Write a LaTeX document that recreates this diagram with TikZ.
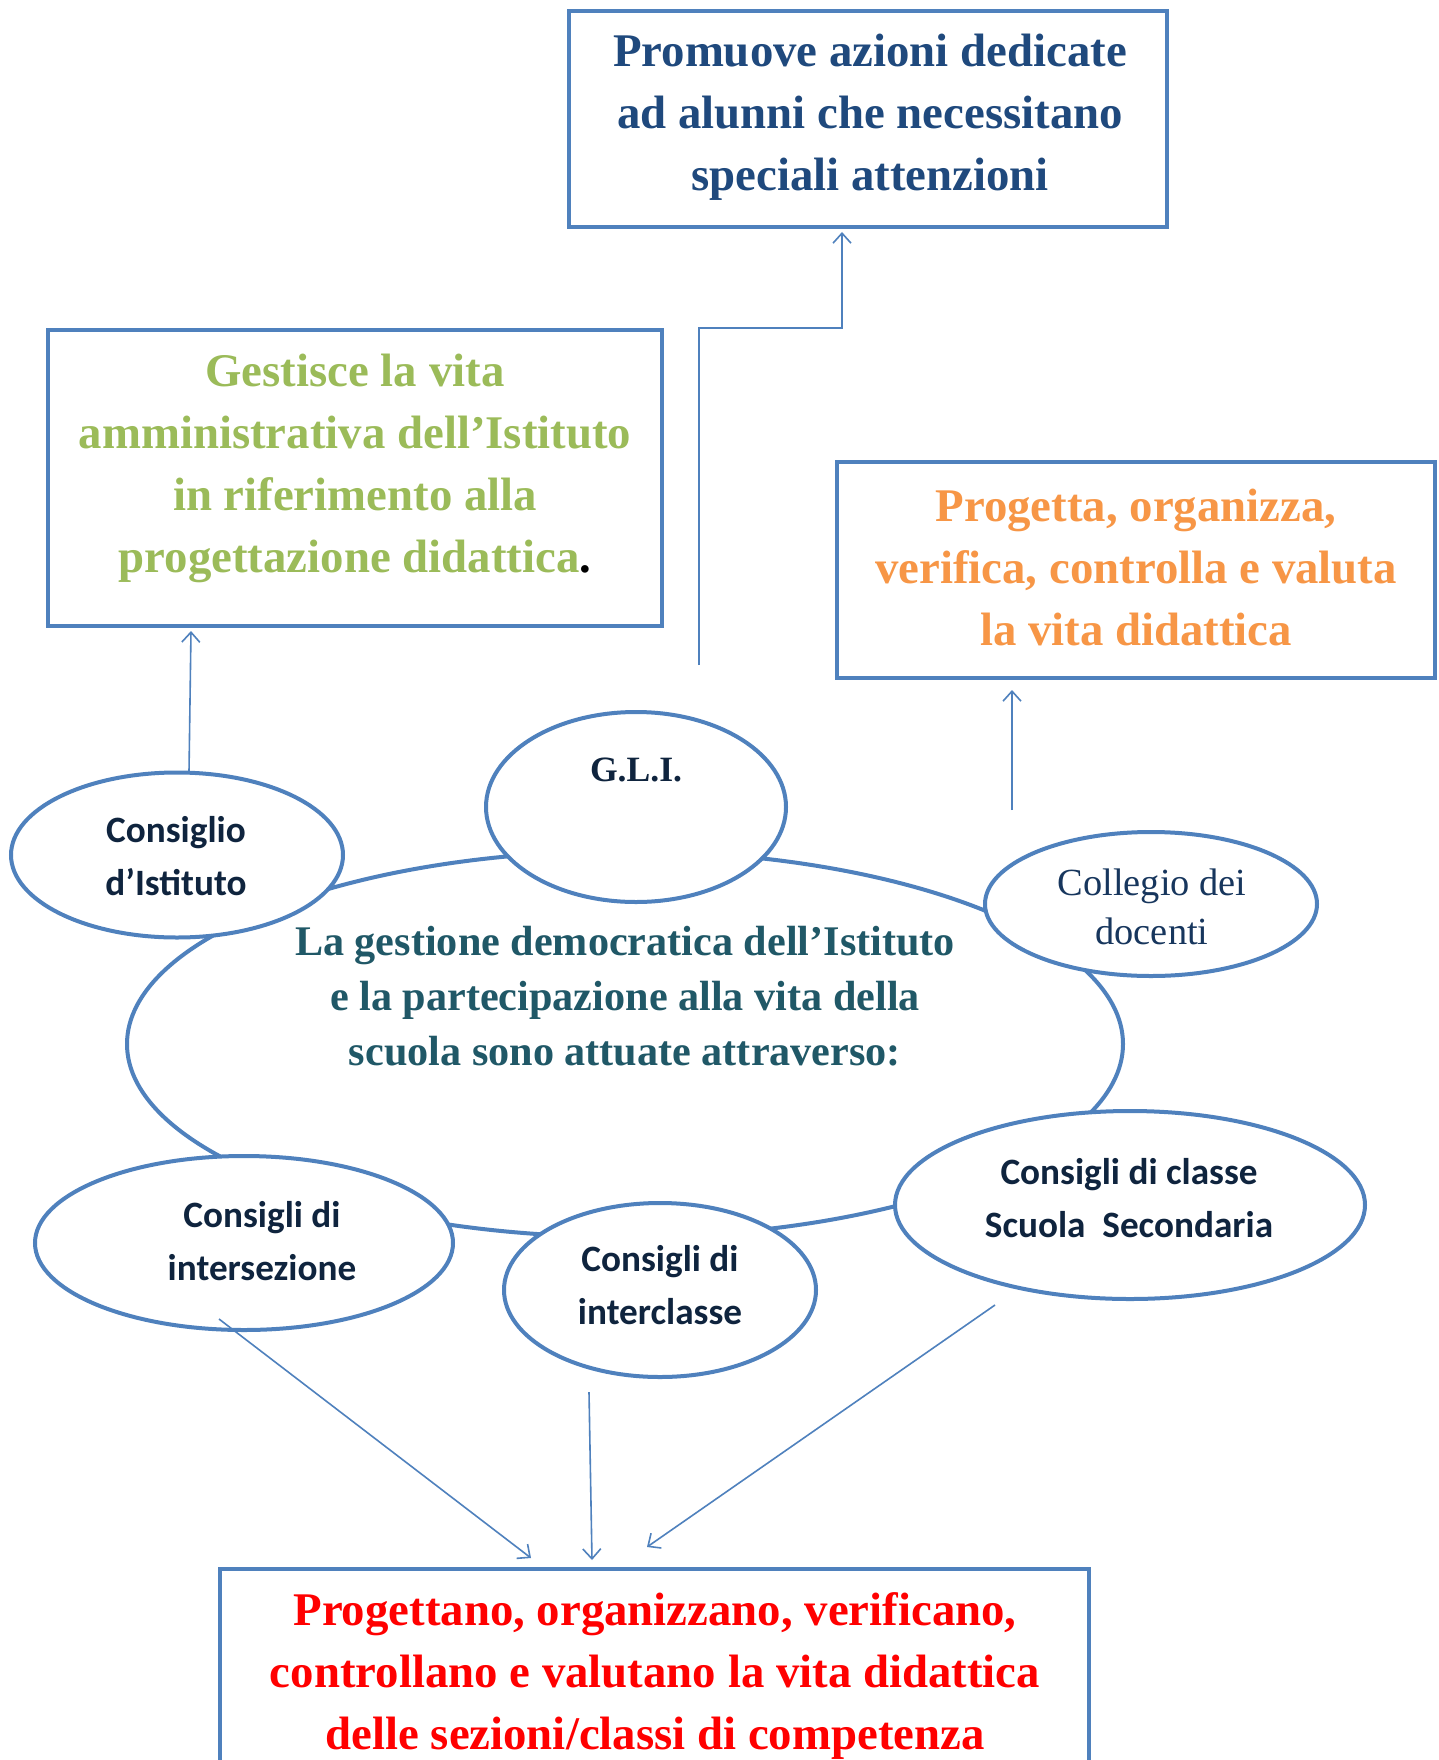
\documentclass[tikz,border=0pt]{standalone}
\usepackage{fontspec}
\setmainfont{Liberation Serif}
\newfontfamily\calib{Carlito}
\usetikzlibrary{shapes.geometric,arrows.meta}
\definecolor{lineblue}{HTML}{4F81BD}
\definecolor{txtblue}{HTML}{1F497D}
\definecolor{txtgreen}{HTML}{9BBB59}
\definecolor{txtorange}{HTML}{F79646}
\definecolor{txtteal}{HTML}{205867}
\definecolor{txtnavy}{HTML}{0F243E}
\definecolor{txtnavy2}{HTML}{17365D}
\begin{document}
\begin{tikzpicture}[x=0.5pt,y=-0.5pt,
  ell/.style={ellipse,draw=lineblue,line width=2pt,fill=white,inner sep=0pt},
  bigell/.style={ellipse,draw=lineblue,line width=2pt,inner sep=0pt},
  boxx/.style={rectangle,draw=lineblue,line width=2pt,fill=white,inner sep=0pt},
  boxtxt/.style={align=center,font=\fontsize{23.4}{31}\selectfont\bfseries,inner sep=0pt},
  elltxt/.style={align=center,font=\fontsize{18.6}{26.4}\selectfont\calib\bfseries,text=txtnavy,inner sep=0pt},
  arr/.style={draw=lineblue,line width=0.8pt,-{Straight Barb[length=5pt,width=9pt]}}]
\useasboundingbox (0,0) rectangle (1439,1760);
\fill[white] (0,0) rectangle (1439,1760);

% big ellipse
\node[bigell,minimum width=498pt,minimum height=193pt] (big) at (625,1044) {};
% small ellipses
\node[ell,minimum width=150pt,minimum height=95pt] (gli) at (636,807) {};
\node[ell,minimum width=166pt,minimum height=82.5pt] (ci) at (177,855) {};
\node[ell,minimum width=166pt,minimum height=72pt] (cd) at (1151,904) {};
\node[ell,minimum width=209pt,minimum height=87pt] (cis) at (244,1243) {};
\node[ell,minimum width=156pt,minimum height=87pt] (cic) at (660,1290) {};
\node[ell,minimum width=235pt,minimum height=94pt] (ccs) at (1130,1205) {};

% boxes
\node[boxx,minimum width=299pt,minimum height=108pt] (top) at (868,119) {};
\node[boxx,minimum width=307pt,minimum height=148pt] (left) at (355,478) {};
\node[boxx,minimum width=299pt,minimum height=108pt] (right) at (1136,570) {};
\node[boxx,minimum width=434.5pt,minimum height=130.5pt] (bottom) at (654.5,1699.5) {};

% texts
\node[boxtxt,text=txtblue] (ttop) at (870,117) {Promuove azioni dedicate\\ad alunni che necessitano\\speciali attenzioni};
\node[boxtxt,text=txtgreen] (tleft) at (355,468) {Gestisce la vita\\amministrativa dell’Istituto\\in riferimento alla\\progettazione didattica\textcolor{black}{.}};
\node[boxtxt,text=txtorange] (tright) at (1136,567) {Progetta, organizza,\\verifica, controlla e valuta\\la vita didattica};
\node[boxtxt,text=red] (tbottom) at (655,1676) {Progettano, organizzano, verificano,\\controllano e valutano la vita didattica\\delle sezioni/classi di competenza};
\node[align=center,inner sep=0pt,text=txtteal,font=\fontsize{21.1}{27.5}\selectfont\bfseries] (tbig) at (625,996) {La gestione democratica dell’Istituto\\e la partecipazione alla vita della\\scuola sono attuate attraverso:};
\node[inner sep=0pt,text=txtnavy,font=\fontsize{17.8}{22}\selectfont\bfseries] (tgli) at (636,770) {G.L.I.};
\node[elltxt] (tci) at (176,856) {Consiglio\\d’Istituto};
\node[align=center,inner sep=0pt,text=txtnavy2,font=\fontsize{19.2}{24.5}\selectfont] (tcd) at (1152,907) {Collegio dei\\docenti};
\node[elltxt] (tcis) at (262,1241) {Consigli di\\intersezione};
\node[elltxt] (tcic) at (660,1285) {Consigli di\\interclasse};
\node[elltxt] (tccs) at (1129,1198) {Consigli di classe\\Scuola\ \ Secondaria};

% connector coordinates
\coordinate (a1s) at (189,772);
\coordinate (a1e) at (191,631);
\coordinate (a2s) at (699,665);
\coordinate (a2m1) at (699,328);
\coordinate (a2m2) at (842,328);
\coordinate (a2e) at (842,232);
\coordinate (a3s) at (1012,810);
\coordinate (a3e) at (1012,690);
\coordinate (a4s) at (219,1319);
\coordinate (a4e) at (531,1558);
\coordinate (a5s) at (589,1392);
\coordinate (a5e) at (592,1560);
\coordinate (a6s) at (995,1305);
\coordinate (a6e) at (647,1547);

\draw[arr] (a1s) -- (a1e);
\draw[arr] (a2s) -- (a2m1) -- (a2m2) -- (a2e);
\draw[arr] (a3s) -- (a3e);
\draw[arr] (a4s) -- (a4e);
\draw[arr] (a5s) -- (a5e);
\draw[arr] (a6s) -- (a6e);
\end{tikzpicture}
\end{document}
